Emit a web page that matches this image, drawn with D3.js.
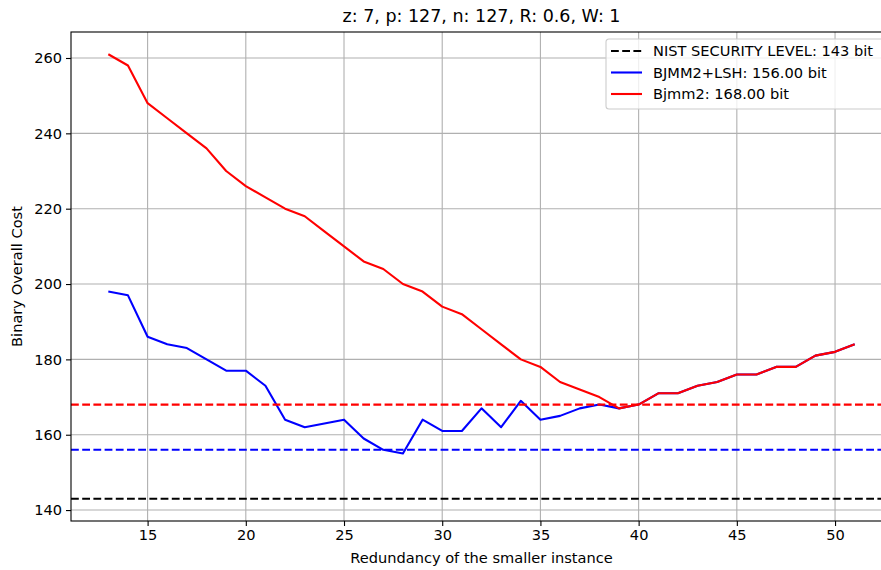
<!DOCTYPE html>
<html>
<head>
<meta charset="utf-8">
<script src="https://cdn.jsdelivr.net/npm/d3@7"></script>
<style>
  body { margin: 0; background: #fff; }
  svg { font-family: "DejaVu Sans", sans-serif; }
</style>
</head>
<body>
<div id="chart"></div>
<script>
// redundancy values on the x axis
var redundancy = [13, 14, 15, 16, 17, 18, 19, 20, 21, 22, 23, 24, 25, 26, 27, 28, 29, 30, 31, 32,
                  33, 34, 35, 36, 37, 38, 39, 40, 41, 42, 43, 44, 45, 46, 47, 48, 49, 50, 51];

var lshCost = [198, 197, 186, 184, 183, 180, 177, 177, 173, 164, 162, 163, 164, 159, 156, 155, 164, 161, 161, 167,
               162, 169, 164, 165, 167, 168, 167, 168, 171, 171, 173, 174, 176, 176, 178, 178, 181, 182, 184];

var bjmmCost = [261, 258, 248, 244, 240, 236, 230, 226, 223, 220, 218, 214, 210, 206, 204, 200, 198, 194, 192, 188,
                184, 180, 178, 174, 172, 170, 167, 168, 171, 171, 173, 174, 176, 176, 178, 178, 181, 182, 184];

var nistLevel = 143, lshBest = 156, bjmmBest = 168;
var xTicks = [15, 20, 25, 30, 35, 40, 45, 50];
var yTicks = [140, 160, 180, 200, 220, 240, 260];
var legendLabels = ["NIST SECURITY LEVEL: 143 bit", "BJMM2+LSH: 156.00 bit", "Bjmm2: 168.00 bit"];

function init(){
  var W = 881, H = 570;
  var pLeft = 71, pRight = 892, pTop = 32, pBottom = 521;
  var fs = "14.6px";
  var lw = 2.1; //line width for the data lines

  var svg = d3.select("#chart").append("svg")
      .attr("width", W).attr("height", H);

  // matplotlib style 5% margins
  var xmin = d3.min(redundancy), xmax = d3.max(redundancy);
  var xpad = (xmax - xmin) * 0.05;
  var x = d3.scaleLinear().domain([xmin - xpad, xmax + xpad]).range([pLeft, pRight]);

  var allY = lshCost.concat(bjmmCost, [nistLevel]);
  var ymin = d3.min(allY), ymax = d3.max(allY);
  var ypad = (ymax - ymin) * 0.05;
  var y = d3.scaleLinear().domain([ymin - ypad, ymax + ypad]).range([pBottom, pTop]);

  //grid
  var grid = svg.append("g").attr("stroke", "#b0b0b0").attr("stroke-width", 1.1);
  grid.selectAll("line.gx").data(xTicks).enter().append("line")
      .attr("x1", function(d){ return x(d); }).attr("x2", function(d){ return x(d); })
      .attr("y1", pTop).attr("y2", pBottom);
  grid.selectAll("line.gy").data(yTicks).enter().append("line")
      .attr("y1", function(d){ return y(d); }).attr("y2", function(d){ return y(d); })
      .attr("x1", pLeft).attr("x2", pRight);

  var dash = "7.8,3.4";
  var lineGen = d3.line()
      .x(function(d){ return x(d[0]); })
      .y(function(d){ return y(d[1]); });

  function hline(val, color) {
    svg.append("line")
       .attr("x1", pLeft).attr("x2", pRight)
       .attr("y1", y(val)).attr("y2", y(val))
       .attr("stroke", color).attr("stroke-width", lw)
       .attr("stroke-dasharray", dash);
  }

  hline(nistLevel, "black");

  svg.append("path")
     .datum(d3.zip(redundancy, lshCost))
     .attr("d", lineGen)
     .attr("fill", "none").attr("stroke", "#0000ff").attr("stroke-width", lw)
     .attr("stroke-linejoin", "round");

  svg.append("path")
     .datum(d3.zip(redundancy, bjmmCost))
     .attr("d", lineGen)
     .attr("fill", "none").attr("stroke", "#ff0000").attr("stroke-width", lw)
     .attr("stroke-linejoin", "round");

  hline(lshBest, "#0000ff");
  hline(bjmmBest, "#ff0000");

  // axes
  var xAxis = svg.append("g")
     .attr("transform", "translate(0," + pBottom + ")")
     .call(d3.axisBottom(x).tickValues(xTicks).tickSize(5).tickPadding(4).tickFormat(d3.format("d")));
  var yAxis = svg.append("g")
     .attr("transform", "translate(" + pLeft + ",0)")
     .call(d3.axisLeft(y).tickValues(yTicks).tickSize(5).tickPadding(4).tickFormat(d3.format("d")));

  [xAxis, yAxis].forEach(function(a){
    a.select(".domain").remove();
    a.selectAll(".tick line").attr("stroke", "black").attr("stroke-width", 1.1);
    a.selectAll(".tick text").attr("font-size", fs).attr("fill", "#000")
     .attr("font-family", "DejaVu Sans, sans-serif");
  });

  // spines
  svg.append("rect")
     .attr("x", pLeft).attr("y", pTop)
     .attr("width", pRight - pLeft).attr("height", pBottom - pTop)
     .attr("fill", "none").attr("stroke", "black").attr("stroke-width", 1.1);

  // title and labels
  svg.append("text")
     .attr("x", (pLeft + pRight) / 2).attr("y", 22)
     .attr("text-anchor", "middle").attr("font-size", "17.5px")
     .text("z: 7, p: 127, n: 127, R: 0.6, W: 1");

  svg.append("text")
     .attr("x", (pLeft + pRight) / 2).attr("y", 563)
     .attr("text-anchor", "middle").attr("font-size", fs)
     .text("Redundancy of the smaller instance");

  svg.append("text")
     .attr("transform", "translate(22," + ((pTop + pBottom) / 2) + ") rotate(-90)")
     .attr("text-anchor", "middle").attr("font-size", fs)
     .text("Binary Overall Cost");

  // legend
  var lg = svg.append("g").attr("transform", "translate(606,39)");
  lg.append("rect")
    .attr("width", 290).attr("height", 70).attr("rx", 3)
    .attr("fill", "white").attr("fill-opacity", 0.8)
    .attr("stroke", "#cccccc").attr("stroke-width", 1.1);

  var legendColors = ["black", "#0000ff", "#ff0000"];
  var legendDash = [dash, null, null];
  legendLabels.forEach(function(lab, i){
    var ly = 12 + i * 21.5;
    lg.append("line")
      .attr("x1", 5).attr("x2", 36).attr("y1", ly).attr("y2", ly)
      .attr("stroke", legendColors[i]).attr("stroke-width", lw)
      .attr("stroke-dasharray", legendDash[i]);
    lg.append("text")
      .attr("x", 47).attr("y", ly + 5)
      .attr("font-size", fs)
      .text(lab);
  });
}

window.onload = init;
</script>
</body>
</html>
